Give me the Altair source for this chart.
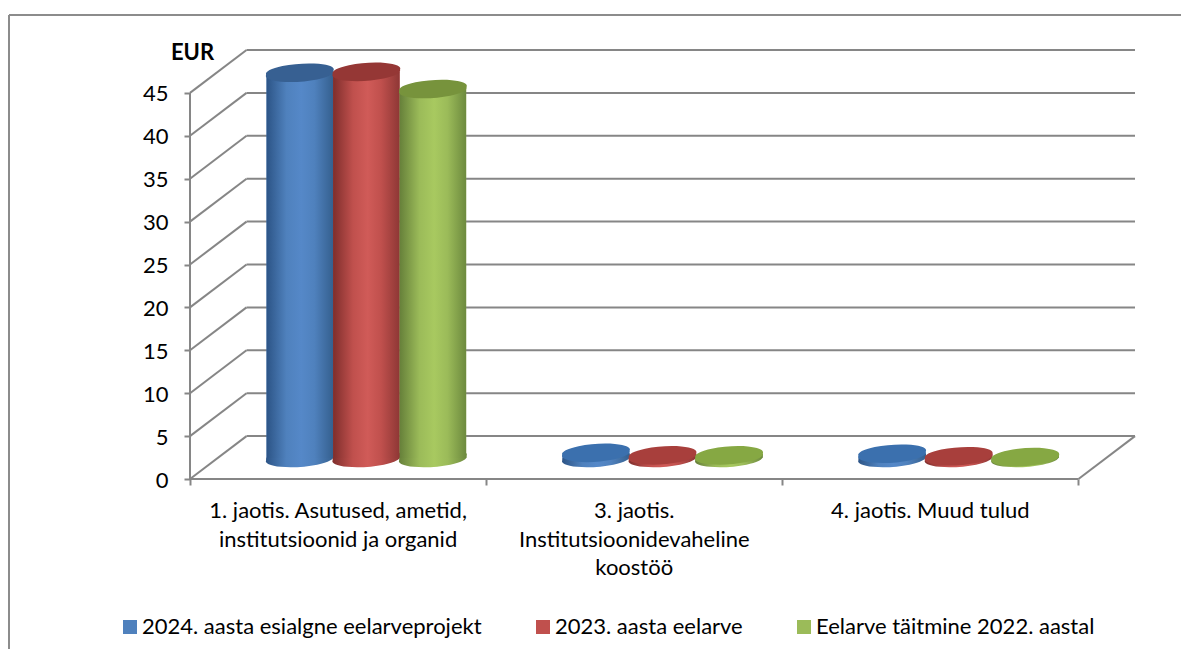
import altair as alt
import pandas as pd

categories = ["1. jaotis. Asutused, ametid,\ninstitutsioonid ja organid",
              "3. jaotis.\nInstitutsioonidevaheline\nkoostöö",
              "4. jaotis. Muud tulud"]
series = ["2024. aasta esialgne eelarveprojekt", "2023. aasta eelarve", "Eelarve täitmine 2022. aastal"]
values_2024 = [44.9, 0.6, 0.5]
values_2023 = [45.0, 0.3, 0.2]
values_2022 = [43.0, 0.3, 0.1]
all_values = [values_2024, values_2023, values_2022]
y_ticks = [0, 5, 10, 15, 20, 25, 30, 35, 40, 45]
colors = ["#4F81BD", "#C0504D", "#9BBB59"]
top_colors = ["#376092", "#953735", "#77933C"]
disc_colors = ["#3B70AE", "#A83F3C", "#86A843"]
edge_dark = ["#2C5486", "#7F2E2C", "#66803A"]
edge_right = ["#35608F", "#8E3735", "#6D8A3E"]
light = ["#5588C8", "#D05B58", "#A8C960"]

FONT = "Lato"
GRID = "#868686"
DX = 56.5 / 296      # depth of the floor, in category units
DY = 5.0             # depth of the floor, in value units
BAR_W = 66.5 / 296
BASE = 2.45
W, H = 945, 429

x_scale = alt.Scale(domain=[0, 3 + DX], nice=False, zero=False)
y_scale = alt.Scale(domain=[0, 50], nice=False, zero=False)
X = lambda f: alt.X(f, type="quantitative", scale=x_scale, title=None,
                    axis=alt.Axis(values=[0, 1, 2, 3], labels=False, domain=False, grid=False,
                                  tickSize=6, tickColor=GRID, tickWidth=2))
Y = lambda f: alt.Y(f, type="quantitative", scale=y_scale,
                    axis=alt.Axis(values=y_ticks, domain=False, grid=False, tickSize=6, tickColor=GRID,
                                  tickWidth=2, labelFont=FONT, labelFontSize=22, labelColor="black",
                                  labelPadding=16, labelOffset=1, title="EUR", titleAngle=0, titleFont=FONT,
                                  titleFontSize=22, titleFontWeight="bold", titleColor="black",
                                  titleX=2, titleY=2, titleAlign="center", titleBaseline="middle"))

# grid: side diagonals and back-wall lines
diag = pd.DataFrame([{"x": 0, "x2": DX, "y": v, "y2": v + DY} for v in y_ticks])
diag_right = pd.DataFrame([{"x": 3, "x2": 3 + DX, "y": 0, "y2": DY}])
back = pd.DataFrame([{"x": DX, "x2": 3 + DX, "y": v + DY, "y2": v + DY} for v in y_ticks])
front = pd.DataFrame([{"x": 0, "x2": 3, "y": 0, "y2": 0}])
left = pd.DataFrame([{"x": 0, "x2": 0, "y": 0, "y2": 45}])
grid_df = pd.concat([diag, diag_right, back, front, left], ignore_index=True)
grid = alt.Chart(grid_df).mark_rule(color=GRID, strokeWidth=2).encode(
    x=X("x"), x2="x2", y=Y("y"), y2="y2")

# outer frame of the chart
frame_top = alt.Chart(pd.DataFrame({"a": [0]})).mark_rule(color="#8C8C8C", strokeWidth=2).encode(
    x=alt.value(-181), x2=alt.value(W + 60), y=alt.value(-35))
frame_left = alt.Chart(pd.DataFrame({"a": [0]})).mark_rule(color="#8C8C8C", strokeWidth=2).encode(
    x=alt.value(-181), y=alt.value(-35), y2=alt.value(H + 190))

rows = []
for c in range(len(categories)):
    for s in range(len(series)):
        center = c + 0.5 + DX / 2 + (s - 1) * BAR_W
        rows.append({"series": series[s], "s": s, "xc": center, "v": all_values[s][c],
                     "x0": center - BAR_W / 2, "x1": center + BAR_W / 2,
                     "y0": BASE, "y1": BASE + all_values[s][c]})
bars_df = pd.DataFrame(rows)

ELLIPSE = "M-0.99,0.06A1,0.235 -4 1,1 0.99,-0.06A1,0.235 -4 1,1 -0.99,0.06Z"
ELL_SIZE = 68 ** 2

legend_base = alt.Chart(bars_df).mark_bar(opacity=1).encode(
    x=X("x0"), x2="x1", y=Y("y0"), y2="y1",
    color=alt.Color("series:N", scale=alt.Scale(domain=series, range=colors), sort=series,
                    legend=alt.Legend(orient="none", legendX=-71, legendY=566, direction="horizontal",
                                      columns=3, title=None, symbolType="square", symbolSize=196,
                                      symbolStrokeWidth=0, symbolOpacity=1, labelFont=FONT, labelFontSize=22,
                                      labelColor="black", labelOffset=1, columnPadding=50,
                                      labelLimit=500)))

layers = [frame_top, frame_left, grid, legend_base]
for s in range(len(series)):
    d = bars_df[bars_df.s == s]
    grad = alt.Gradient(gradient="linear", x1=0, x2=1, y1=0, y2=0, stops=[
        alt.GradientStop(color=edge_dark[s], offset=0),
        alt.GradientStop(color=colors[s], offset=0.3),
        alt.GradientStop(color=light[s], offset=0.52),
        alt.GradientStop(color=colors[s], offset=0.72),
        alt.GradientStop(color=edge_right[s], offset=1)])
    layers.append(alt.Chart(d).mark_point(shape=ELLIPSE, size=ELL_SIZE, filled=True, fill=grad, opacity=1,
                                          strokeWidth=0).encode(x=X("xc"), y=Y("y0")))
    layers.append(alt.Chart(d).mark_bar(color=grad).encode(x=X("x0"), x2="x1", y=Y("y0"), y2="y1"))
    layers.append(alt.Chart(d[d.v >= 5]).mark_point(shape=ELLIPSE, size=ELL_SIZE, filled=True, fill=top_colors[s],
                                                    opacity=1, strokeWidth=0).encode(x=X("xc"), y=Y("y1")))
    layers.append(alt.Chart(d[d.v < 5]).mark_point(shape=ELLIPSE, size=ELL_SIZE, filled=True, fill=disc_colors[s],
                                                   opacity=1, strokeWidth=0).encode(x=X("xc"), y=Y("y1")))

labels = alt.Chart(pd.DataFrame({"x": [0.5, 1.5, 2.5], "y": [0, 0, 0], "t": categories})).mark_text(
    font=FONT, fontSize=22, color="black", lineBreak="\n", lineHeight=28.5, baseline="middle", dy=32, align="center"
).encode(x=X("x"), y=Y("y"), text="t:N")
layers.append(labels)

chart = alt.layer(*layers).resolve_legend(color="shared").properties(
    width=W, height=H,
    padding={"left": 182, "top": 42, "right": 46, "bottom": 170},
    autosize=alt.AutoSizeParams(type="none"),
    background="white",
).configure_view(strokeWidth=0)

chart.save("out.html", embed_options={"renderer": "svg", "actions": False})
